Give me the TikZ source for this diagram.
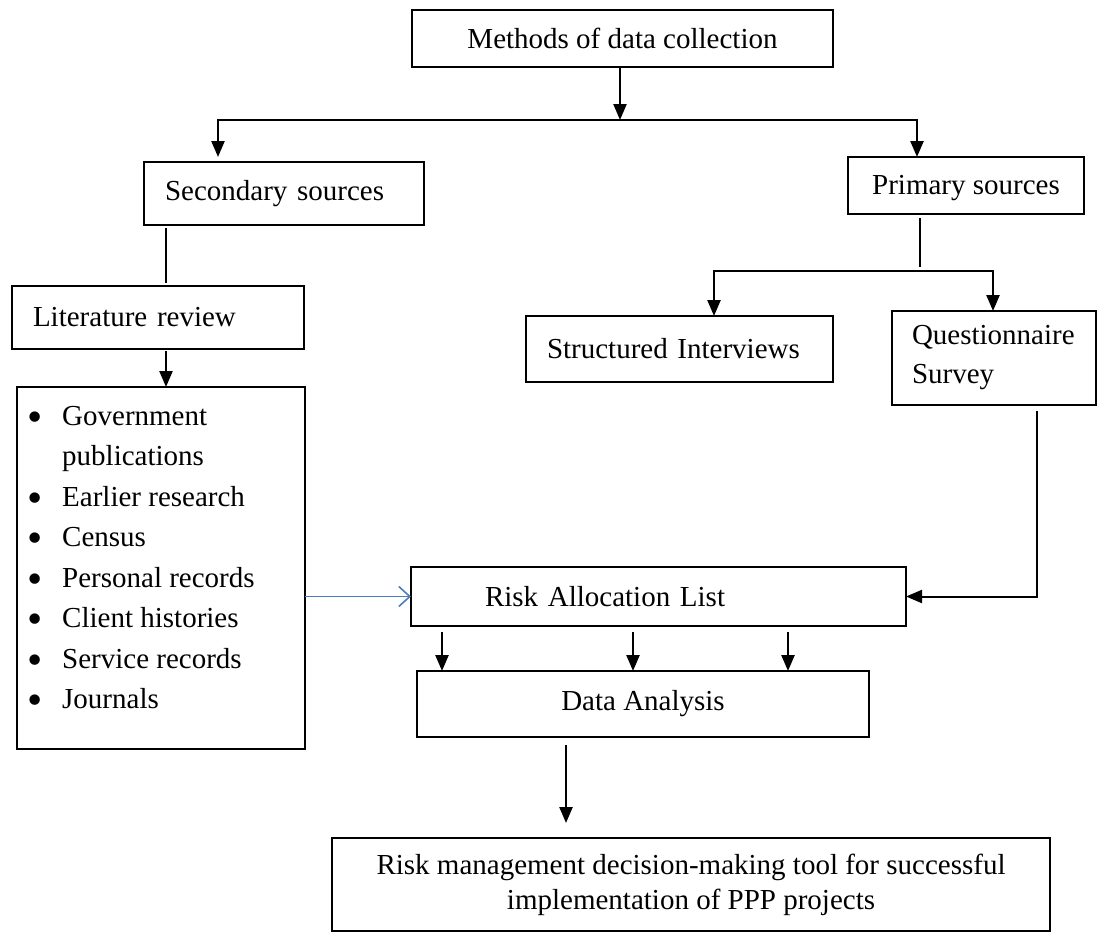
\documentclass[tikz,border=0pt]{standalone}
\usepackage{fontspec}
\setmainfont{Liberation Serif}
\usetikzlibrary{arrows.meta}
\definecolor{linkblue}{RGB}{74,126,187}

% list bullet: a filled dot set a little larger and lower than the text bullet
\newcommand{\listdot}{\makebox[35pt][l]{\raisebox{-6pt}{\scalebox{1.5}{•}}}}

\begin{document}
\begin{tikzpicture}[x=1pt,y=-1pt,
  every node/.style={font=\fontsize{29}{40.5}\selectfont},
  box/.style={draw, line width=1.8pt, inner sep=0pt, outer sep=0pt, anchor=north west},
  leftbox/.style={box, align=left, inner xsep=21pt},
  item/.style={anchor=base west, inner sep=0pt},
  arr/.style={line width=2.4pt, -{Triangle[length=16pt,width=13pt]}},
  wire/.style={line width=1.2pt},
  bluearr/.style={draw=linkblue, line width=1.6pt, -{Straight Barb[length=11pt,width=20pt,line width=1.6pt]}}]

\path[use as bounding box] (0,0) rectangle (1102,934);

% boxes
\node[box, minimum width=421pt, minimum height=57pt] (meth) at (412,10) {Methods of data collection};
\node[leftbox, minimum width=280pt, minimum height=63pt, text width=238pt] (sec) at (144,162) {Secondary sources};
\node[box, minimum width=236pt, minimum height=57pt, text height=24pt, text depth=6pt] (prim) at (848,157) {Primary sources};
\node[leftbox, minimum width=292pt, minimum height=63pt, text width=250pt] (lit) at (12,286) {Literature review};
\node[leftbox, minimum width=307pt, minimum height=66pt, text width=265pt] (struct) at (526,316) {Structured Interviews};
\node[box, align=left, inner xsep=20pt, minimum width=204pt, minimum height=94pt, text width=164pt,
      font=\fontsize{29}{39}\selectfont] (quest) at (892,311) {Questionnaire\\Survey};
\node[box, minimum width=288pt, minimum height=362pt] (bul) at (17,387) {};
\node[box, align=left, inner xsep=74pt, minimum width=495pt, minimum height=59pt, text width=347pt] (risk) at (411,567) {Risk Allocation List};
\node[box, minimum width=452pt, minimum height=66pt] (data) at (417,671) {Data Analysis};
\node[box, align=center, minimum width=718pt, minimum height=93pt,
      font=\fontsize{29}{35}\selectfont] (final) at (332,838)
      {Risk management decision-making tool for successful\\implementation of PPP projects};

% bullet list of secondary sources
\node[item] (b1) at (27,425)   {\listdot Government};
\node[item] (b1b) at (62,465.5) {publications};
\node[item] (b2) at (27,506)   {\listdot Earlier research};
\node[item] (b3) at (27,546.5) {\listdot Census};
\node[item] (b4) at (27,587)   {\listdot Personal records};
\node[item] (b5) at (27,627.5) {\listdot Client histories};
\node[item] (b6) at (27,668)   {\listdot Service records};
\node[item] (b7) at (27,708.5) {\listdot Journals};

% junction points
\coordinate (hl) at (218,120);
\coordinate (hm) at (620,120);
\coordinate (hr) at (917,120);
\coordinate (lx) at (166,0);
\coordinate (pj) at (920,271);
\coordinate (sl) at (714,271);
\coordinate (sr) at (993,271);
\coordinate (qx) at (1037,0);
\coordinate (a1) at (442,0);
\coordinate (a2) at (633,0);
\coordinate (a3) at (788,0);
\coordinate (fx) at (566,0);

% connectors
\draw[arr] (meth.south -| hm) -- (hm);
\draw[arr, shorten >=5pt] (hm) -- (hl) -- (sec.north -| hl);
\draw[arr] (hm) -- (hr) -- (prim.north -| hr);

\draw[wire, shorten <=3pt, shorten >=3pt] (sec.south -| lx) -- (lit.north -| lx);
\draw[arr, shorten <=2pt] (lit.south -| lx) -- (bul.north -| lx);

\draw[wire, shorten <=4pt, shorten >=4pt] (prim.south -| pj) -- (pj);
\draw[arr] (pj) -- (sl) -- (struct.north -| sl);
\draw[arr] (pj) -- (sr) -- (quest.north -| sr);

\draw[arr, line width=2pt, shorten <=6pt] (quest.south -| qx) |- (risk.east);
\draw[bluearr] (bul.east |- risk.west) -- (risk.west);

\draw[arr, shorten <=6pt] (risk.south -| a1) -- (data.north -| a1);
\draw[arr, shorten <=6pt] (risk.south -| a2) -- (data.north -| a2);
\draw[arr, shorten <=6pt] (risk.south -| a3) -- (data.north -| a3);

\draw[arr, shorten <=8pt, shorten >=15pt] (data.south -| fx) -- (final.north -| fx);
\end{tikzpicture}
\end{document}
